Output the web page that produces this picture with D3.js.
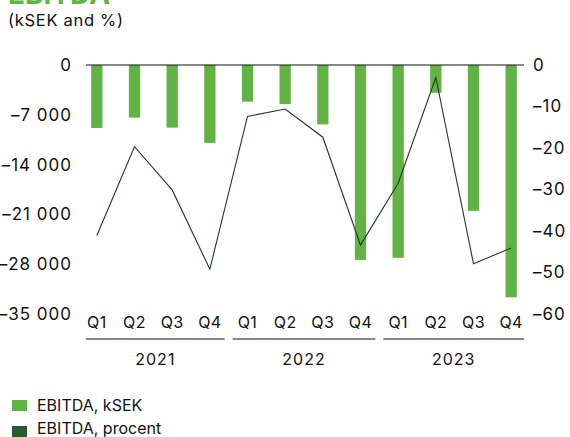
<!DOCTYPE html>
<html><head><meta charset="utf-8">
<script src="https://cdn.jsdelivr.net/npm/d3@7"></script>
<style>
body{margin:0;background:#fff;}
svg{display:block;font-family:Inter, "Noto Sans", sans-serif;}
</style></head>
<body><svg id="c" width="570" height="437"></svg>
<script>
const quarters = ["Q1","Q2","Q3","Q4","Q1","Q2","Q3","Q4","Q1","Q2","Q3","Q4"];
const years = ["2021","2021","2021","2021","2022","2022","2022","2022","2023","2023","2023","2023"];
const yearLabels = ["2021","2022","2023"];
const ebitdaKsek = [-8850,-7400,-8800,-10950,-5150,-5500,-8350,-27400,-27100,-3900,-20500,-32650];
const ebitdaPct = [-41.1,-19.7,-30.1,-49.2,-12.4,-10.6,-17.4,-43.4,-28.5,-3.0,-47.9,-44.1];
const leftTicks = [0,-7000,-14000,-21000,-28000,-35000];
const rightTicks = [0,-10,-20,-30,-40,-50,-60];
const seriesNames = ["EBITDA, kSEK","EBITDA, procent"];
const barColor = "#62b346", lineColor = "#1e3a1e", legendLine = "#2d5a2d";

const svg = d3.select("#c");
const plotTop = 65, plotBottom = 314;
const idx = d3.range(quarters.length);
const x = d3.scaleBand().domain(idx).range([78,530]).paddingInner(0.70).paddingOuter(0.35);
const yL = d3.scaleLinear().domain([0,-35000]).range([plotTop,plotBottom]);
const yR = d3.scaleLinear().domain([0,-60]).range([plotTop,plotBottom]);
const fmt = v => v===0 ? "0" : "\u2013"+d3.format(",")(Math.abs(v)).replace(/,/g," ");
const fmtR = v => v===0 ? "0" : "\u2013"+Math.abs(v);
const FS = 16;

// title
svg.append("text").attr("x",8).attr("y",4).attr("fill",barColor).attr("font-weight",700).attr("font-size",28).text("EBITDA");
svg.append("text").attr("x",8).attr("y",26).attr("fill","#111").attr("font-size",16.5).attr("letter-spacing",0.7).text("(kSEK and %)");

// left axis
const gl = svg.append("g").attr("transform","translate(72,0)")
  .call(d3.axisLeft(yL).tickValues(leftTicks).tickFormat(fmt).tickSize(0).tickPadding(0));
gl.select(".domain").remove();
gl.selectAll("text").attr("font-size",17).attr("letter-spacing",1).attr("fill","#111").attr("font-family","Inter, sans-serif");

// right axis
const gr = svg.append("g").attr("transform","translate(533,0)")
  .call(d3.axisRight(yR).tickValues(rightTicks).tickFormat(fmtR).tickSize(0).tickPadding(0));
gr.select(".domain").remove();
gr.selectAll("text").attr("font-size",17).attr("letter-spacing",1).attr("fill","#111").attr("font-family","Inter, sans-serif");

// bars
svg.append("g").selectAll("rect").data(ebitdaKsek).join("rect")
  .attr("x",(d,i)=>x(i)).attr("width",x.bandwidth())
  .attr("y",yL(0)).attr("height",d=>yL(d)-yL(0)).attr("fill",barColor);

// zero line
svg.append("line").attr("x1",86).attr("x2",524).attr("y1",yL(0)).attr("y2",yL(0)).attr("stroke","#111").attr("stroke-width",1.2);

// line
const line = d3.line().x((d,i)=>x(i)+x.bandwidth()/2).y(d=>yR(d));
svg.append("path").datum(ebitdaPct).attr("d",line).attr("fill","none").attr("stroke",lineColor).attr("stroke-width",1.1);

// x labels
svg.append("g").selectAll("text").data(quarters).join("text")
  .attr("x",(d,i)=>x(i)+x.bandwidth()/2).attr("y",327.5).attr("text-anchor","middle")
  .attr("font-size",FS).attr("letter-spacing",0.4).attr("fill","#111").text(d=>d);

// year groups
const step = x.step();
yearLabels.forEach((yr,k)=>{
  const ids = idx.filter(i=>years[i]===yr);
  const first = ids[0], last = ids[ids.length-1];
  const cx0 = x(first)+x.bandwidth()/2, cx1 = x(last)+x.bandwidth()/2;
  const x0 = k===0 ? 86 : cx0 - step/2 + 4;
  const x1 = k===yearLabels.length-1 ? 524 : cx1 + step/2 - 4;
  svg.append("line").attr("x1",x0).attr("x2",x1).attr("y1",339).attr("y2",339).attr("stroke","#111").attr("stroke-width",1);
  svg.append("text").attr("x",(x0+x1)/2).attr("y",365).attr("text-anchor","middle").attr("font-size",FS).attr("letter-spacing",1).attr("fill","#111").text(yr);
});

// legend
const lg = svg.append("g");
[barColor, legendLine].forEach((c,i)=>{
  lg.append("rect").attr("x",12).attr("y",400+i*26).attr("width",15).attr("height",11).attr("fill",c);
  lg.append("text").attr("x",37).attr("y",411+i*23).attr("font-size",FS).attr("fill","#111").text(seriesNames[i]);
});
</script></body></html>
